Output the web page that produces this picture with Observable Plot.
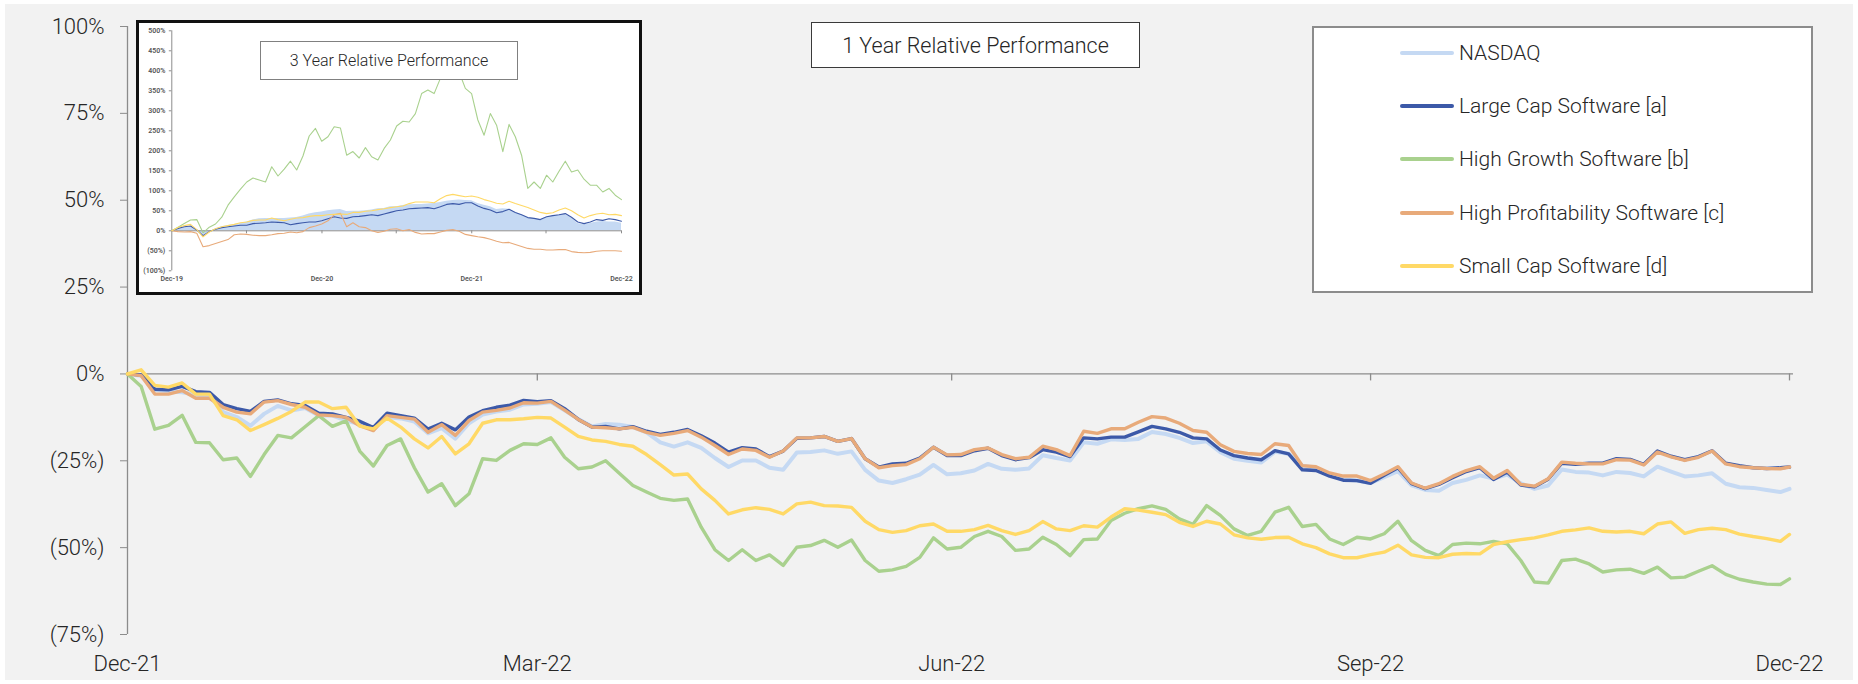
<!DOCTYPE html>
<html>
<head>
<meta charset="utf-8">
<script src="https://cdn.jsdelivr.net/npm/d3@7"></script>
<script src="https://cdn.jsdelivr.net/npm/@observablehq/plot@0.6"></script>
<style>
  html, body { margin: 0; padding: 0; background: #ffffff; width: 1858px; height: 684px; overflow: hidden; font-family: Roboto, "Noto Sans", sans-serif; }
  #bg { position: absolute; left: 5px; top: 4px; width: 1848px; height: 676px; background: #f2f2f2; }
  #main { position: absolute; left: 0; top: 0; }
  .box { position: absolute; background: #ffffff; box-sizing: border-box; }
  .ttl { display: flex; align-items: center; justify-content: center; color: #262626; font-weight: 300; white-space: nowrap; }
  #insetPlot { position: absolute; left: 139px; top: 23px; }
  .lg-sw { position: absolute; height: 4px; border-radius: 2px; transform: translateY(-50%); }
  .lg-tx { position: absolute; font-size: 21px; font-weight: 300; line-height: 1; color: #262626; transform: translateY(-50%); white-space: nowrap; }
</style>
</head>
<body>
<div id="bg"></div>
<div id="main"></div>
<div class="box" style="left:136px;top:20px;width:506px;height:275px;border:3px solid #111;"></div>
<div id="insetPlot"></div>
<div id="title3" class="box ttl" style="left:260px;top:41px;width:258px;height:39px;border:1.5px solid #808080;font-size:16px;"></div>
<div id="title1" class="box ttl" style="left:811px;top:22px;width:329px;height:46px;border:1.5px solid #3a3a3a;font-size:21.5px;"></div>
<div id="legend" class="box" style="left:1312px;top:26px;width:501px;height:267px;border:2px solid #8c8c8c;"></div>
<script>
// ---------- text ----------
const mainTitle = "1 Year Relative Performance";
const insetTitle = "3 Year Relative Performance";
const seriesNames = ["NASDAQ", "Large Cap Software [a]", "High Growth Software [b]", "High Profitability Software [c]", "Small Cap Software [d]"];
const seriesColors = ["#c5d9f3", "#3c59a8", "#a9d18e", "#e8aa7a", "#ffd966"];

// ---------- 1 year data (cumulative % change since Dec-21, every 3 days) ----------
const nasdaq = [0, -0.5, -4.6, -5.0, -5.3, -6.0, -6.3, -11.0, -12.4, -14.9,
 -11.5, -9.2, -10.5, -9.8, -12.0, -12.0, -13.4, -14.4, -15.7, -12.4,
 -12.8, -13.7, -17.1, -15.6, -18.6, -14.2, -11.7, -10.8, -10.3, -8.8,
 -8.6, -8.1, -10.5, -13.0, -15.1, -14.4, -14.6, -15.3, -16.8, -19.7,
 -20.9, -19.7, -21.3, -24.2, -26.8, -24.9, -24.9, -27.0, -27.6, -22.6,
 -22.5, -22.0, -23.0, -22.3, -27.6, -30.7, -31.4, -30.3, -29.0, -26.2,
 -28.9, -28.6, -27.8, -25.9, -27.3, -27.6, -27.2, -23.4, -24.2, -24.9,
 -19.7, -20.1, -18.8, -19.0, -18.7, -16.7, -17.3, -18.4, -19.9, -19.4,
 -22.5, -24.4, -25.0, -25.5, -22.4, -23.0, -26.4, -27.0, -29.0, -30.4,
 -30.7, -31.4, -29.7, -28.0, -32.1, -33.4, -33.6, -31.4, -30.5, -29.2,
 -30.1, -29.0, -31.5, -33.1, -32.1, -27.5, -28.2, -28.4, -29.2, -28.2,
 -28.5, -29.5, -26.7, -28.1, -29.5, -29.2, -28.6, -31.6, -32.6, -32.8,
 -33.4, -34.0, -33.1];
const largeCap = [0, -0.3, -4.4, -4.6, -3.6, -5.1, -5.3, -8.8, -10.0, -10.8,
 -7.9, -7.5, -8.6, -9.1, -11.3, -11.5, -12.5, -13.6, -15.4, -11.3,
 -12.0, -12.7, -15.9, -14.2, -16.1, -12.4, -10.6, -9.6, -9.0, -7.6,
 -8.0, -7.7, -10.0, -13.1, -15.3, -15.1, -15.8, -15.2, -16.5, -17.4,
 -16.8, -16.0, -17.8, -19.9, -22.5, -21.2, -21.6, -23.8, -22.2, -18.5,
 -18.4, -18.0, -19.4, -18.6, -24.4, -26.8, -25.9, -25.7, -24.2, -21.1,
 -23.5, -23.5, -22.1, -21.4, -23.5, -24.7, -24.1, -21.8, -22.5, -23.8,
 -18.4, -18.7, -18.2, -18.2, -16.7, -15.1, -15.8, -16.8, -18.4, -18.7,
 -21.9, -23.5, -24.2, -24.7, -22.1, -23.0, -27.6, -27.8, -29.4, -30.6,
 -30.7, -31.5, -29.2, -27.0, -31.6, -33.0, -31.8, -29.9, -28.1, -27.0,
 -30.4, -28.2, -32.0, -32.5, -30.3, -25.7, -26.0, -25.7, -25.7, -24.4,
 -24.6, -26.0, -22.2, -23.7, -24.7, -23.8, -22.1, -25.7, -26.4, -27.0,
 -27.2, -27.0, -26.8];
const highGrowth = [0, -3.6, -15.9, -14.8, -11.9, -19.7, -19.8, -24.7, -24.2, -29.5,
 -23.2, -17.7, -18.4, -15.2, -12.0, -15.1, -13.5, -22.2, -26.5, -20.6,
 -18.7, -27.0, -34.0, -31.6, -37.9, -34.5, -24.4, -24.9, -22.0, -20.1,
 -20.3, -18.4, -24.0, -27.3, -26.8, -25.0, -28.6, -32.1, -34.0, -35.8,
 -36.4, -36.0, -44.1, -50.6, -53.7, -50.6, -53.7, -52.1, -55.1, -49.9,
 -49.4, -47.9, -49.9, -47.8, -53.7, -56.8, -56.4, -55.4, -52.8, -47.2,
 -50.4, -49.9, -46.8, -45.3, -46.8, -50.8, -50.4, -47.0, -49.1, -52.3,
 -47.7, -47.5, -42.2, -40.1, -38.8, -38.0, -39.0, -41.7, -43.3, -37.9,
 -40.7, -44.6, -46.5, -45.3, -39.8, -38.4, -43.9, -43.3, -47.5, -49.1,
 -47.0, -47.5, -46.0, -42.4, -48.0, -50.8, -52.3, -49.1, -48.7, -48.9,
 -48.2, -48.9, -53.7, -59.9, -60.2, -53.7, -53.3, -54.7, -57.0, -56.4,
 -56.2, -57.4, -55.6, -58.7, -58.5, -56.8, -55.2, -57.7, -59.1, -59.9,
 -60.5, -60.6, -59.0];
const highProf = [0, -0.5, -5.8, -5.8, -4.8, -7.0, -7.0, -9.6, -11.0, -11.5,
 -8.1, -7.7, -8.8, -9.6, -11.8, -12.0, -12.5, -14.9, -16.3, -12.0,
 -12.5, -13.0, -16.8, -14.6, -17.7, -13.4, -11.0, -10.5, -9.8, -8.3,
 -8.4, -7.9, -10.4, -13.1, -15.3, -15.5, -15.8, -15.4, -16.8, -17.7,
 -17.1, -16.3, -18.2, -20.6, -23.2, -21.6, -22.0, -24.0, -22.2, -18.4,
 -18.4, -18.0, -19.4, -18.6, -24.4, -27.0, -26.4, -26.1, -24.4, -21.1,
 -23.3, -23.2, -21.8, -21.3, -23.2, -24.4, -24.0, -20.8, -21.8, -23.5,
 -16.5, -17.1, -15.8, -15.8, -13.9, -12.3, -12.7, -14.2, -16.3, -16.8,
 -20.4, -22.3, -22.9, -23.2, -20.1, -20.6, -26.4, -26.7, -28.5, -29.4,
 -29.4, -30.7, -28.8, -26.7, -31.4, -32.9, -31.6, -29.5, -27.8, -26.7,
 -30.0, -27.8, -31.8, -32.3, -30.2, -25.4, -25.7, -25.9, -25.9, -24.7,
 -24.8, -26.2, -22.5, -23.9, -24.9, -24.0, -22.2, -25.9, -26.7, -27.0,
 -27.2, -27.3, -26.8];
const smallCap = [0, 1.2, -3.3, -3.8, -2.6, -5.8, -5.8, -12.0, -13.2, -16.3,
 -14.6, -12.8, -10.8, -8.1, -8.1, -10.0, -9.6, -15.0, -15.8, -12.7,
 -15.3, -18.7, -21.3, -18.0, -23.0, -20.1, -14.2, -13.2, -13.2, -12.9,
 -12.5, -12.7, -15.3, -18.0, -19.0, -19.4, -20.3, -20.8, -23.2, -26.1,
 -29.1, -28.8, -33.1, -36.4, -40.3, -39.1, -38.5, -39.0, -40.3, -37.4,
 -36.9, -37.9, -38.0, -38.4, -42.4, -44.8, -45.6, -45.1, -43.7, -43.2,
 -45.3, -45.3, -44.8, -43.6, -45.1, -46.2, -45.1, -42.5, -44.6, -45.1,
 -43.7, -44.1, -41.2, -38.8, -39.2, -39.8, -40.5, -42.7, -43.9, -42.4,
 -43.2, -46.3, -47.2, -47.6, -47.1, -47.0, -48.9, -50.0, -51.8, -52.9,
 -52.9, -52.0, -51.3, -49.3, -52.1, -52.8, -52.9, -51.9, -51.7, -51.8,
 -49.1, -48.3, -47.7, -47.2, -46.3, -45.3, -44.9, -44.3, -45.3, -45.5,
 -45.3, -46.0, -43.2, -42.6, -45.9, -44.8, -44.4, -44.8, -46.1, -46.8,
 -47.4, -48.2, -46.2];

// ---------- 3 year inset data (cumulative % change since Dec-19, every half month) ----------
const nasdaq3y = [0, 7, 10, 11, 4, -15, -5, 5, 10, 13,
 16, 18, 22, 27, 30, 31, 31, 31, 31, 32,
 33, 37, 42, 45, 47, 50, 52, 53, 48, 49,
 49, 50, 52, 55, 56, 60, 60, 63, 65, 66,
 66, 67, 68, 71, 74, 76, 77, 76, 75, 68,
 64, 60, 53, 55, 54, 46, 40, 33, 31, 28,
 33, 37, 39, 41, 32, 18, 15, 18, 22, 23,
 22, 22, 19];
const largeCap3y = [0, 6, 10, 12, 2, -12, -2, 4, 8, 10,
 12, 14, 14, 18, 19, 20, 22, 21, 20, 15,
 18, 20, 22, 22, 25, 30, 35, 32, 31, 35,
 36, 38, 40, 38, 42, 46, 50, 52, 55, 56,
 57, 58, 55, 60, 66, 68, 66, 70, 70, 62,
 56, 52, 45, 48, 54, 46, 40, 33, 31, 28,
 35, 38, 40, 43, 34, 22, 18, 22, 28, 26,
 30, 28, 24];
const highGrowth3y = [0, 9, 18, 27, 28, -5, 9, 17, 34, 64,
 85, 104, 122, 132, 127, 122, 160, 137, 154, 174,
 152, 187, 237, 256, 224, 235, 260, 257, 189, 198,
 182, 208, 185, 177, 206, 227, 262, 274, 272, 293,
 343, 352, 343, 381, 431, 456, 397, 356, 343, 277,
 239, 293, 264, 198, 266, 235, 189, 106, 122, 106,
 139, 122, 149, 174, 147, 152, 129, 114, 114, 97,
 106, 89, 78];
const highProf3y = [0, -2, -3, -2, -6, -40, -37, -32, -27, -22,
 -10, -8, -9, -11, -12, -12, -10, -7, -6, -3,
 -5, -2, 8, 12, 17, 25, 40, 44, 10, 20,
 10, 8, 0, -4, -1, 4, 5, 0, 3, -4,
 -8, -7, -7, -3, 1, 3, -1, -9, -12, -15,
 -17, -21, -26, -30, -29, -34, -39, -44, -46, -46,
 -48, -48, -47, -47, -52, -54, -55, -54, -51, -50,
 -50, -50, -51];
const smallCap3y = [0, 8, 13, 16, 3, -15, -3, 5, 10, 13,
 16, 20, 22, 26, 27, 27, 32, 28, 25, 29,
 32, 33, 36, 38, 38, 40, 41, 42, 41, 46,
 46, 49, 50, 53, 55, 58, 60, 62, 68, 72,
 72, 72, 70, 80, 88, 91, 88, 85, 87, 84,
 78, 74, 69, 67, 74, 68, 63, 58, 52, 46,
 43, 45, 52, 57, 50, 40, 32, 38, 42, 44,
 40, 41, 38];

// ---------- ticks ----------
const yTicks = [-75, -50, -25, 0, 25, 50, 75, 100];
const xTickLabels = ["2021-12-31", "2022-03-31", "2022-06-30", "2022-09-30", "2022-12-31"];
const insetYTicks = [-100, -50, 0, 50, 100, 150, 200, 250, 300, 350, 400, 450, 500];
const insetXTickLabels = ["2019-12-31", "2020-12-31", "2021-12-31", "2022-12-31"];
const insetMinorTicks = ["2020-06-30", "2021-06-30", "2022-06-30", "2022-12-31", "2020-12-31", "2021-12-31"];

// ---------- build ----------
const parse = d3.utcParse("%Y-%m-%d");
const start = parse("2021-12-31"), end = parse("2022-12-31");
const dates = d3.range(0, 364, 3).concat([365]).map(d => d3.utcDay.offset(start, d));
const start3 = parse("2019-12-31"), end3 = parse("2022-12-31");
const dates3 = d3.range(73).map(i => new Date(+start3 + i * (end3 - start3) / 72));

const pctFmt = v => v < 0 ? `(${-v}%)` : `${v}%`;
const axisGray = "#8c8c8c";
const textCol = "#262626";

const mainValues = [nasdaq, largeCap, highGrowth, highProf, smallCap];
const insetValues = [nasdaq3y, largeCap3y, highGrowth3y, highProf3y, smallCap3y];
const toRows = (vals, ds) => vals.map((v, i) => ({date: ds[i], value: v}));

const xTicks = xTickLabels.map(parse);
const lineMarks = mainValues.map((vals, k) =>
  Plot.line(toRows(vals, dates), {x: "date", y: "value", stroke: seriesColors[k], strokeWidth: k === 0 ? 4 : 3.4, strokeLinejoin: "round", strokeLinecap: "round"}));

const mainPlot = Plot.plot({
  width: 1858, height: 684,
  marginLeft: 127, marginRight: 69, marginTop: 26, marginBottom: 50,
  x: {type: "utc", domain: [start, end]},
  y: {domain: [-75, 100], label: null},
  style: {background: "transparent", fontFamily: "Roboto, 'Noto Sans', sans-serif", fontWeight: 300, overflow: "visible"},
  marks: [
    Plot.ruleY([0], {stroke: axisGray, strokeWidth: 1.3, insetRight: -4}),
    Plot.ruleX(xTicks.slice(1), {x: d => d, y1: 0, y2: 0, insetBottom: -7, stroke: axisGray, strokeWidth: 1.3}),
    Plot.ruleX([start], {y1: -75, y2: 100, stroke: axisGray, strokeWidth: 1.3}),
    Plot.axisY(yTicks, {tickFormat: pctFmt, tickSize: 7, tickPadding: 16, fontSize: 22, stroke: axisGray, fill: textCol, label: null}),
    Plot.axisX(xTicks, {tickFormat: d3.utcFormat("%b-%y"), tickSize: 0, tickPadding: 21, fontSize: 22, fill: textCol, label: null}),
    ...lineMarks
  ]
});
document.getElementById("main").appendChild(mainPlot);

// inset
const insetXTicks = insetXTickLabels.map(parse);
const insetMinor = insetMinorTicks.map(parse);
const insetMarks = [
  Plot.areaY(toRows(insetValues[0], dates3), {x: "date", y1: 0, y2: "value", fill: seriesColors[0]}),
  Plot.ruleY([0], {stroke: axisGray, strokeWidth: 1}),
  Plot.ruleX(insetMinor, {x: d => d, y1: 0, y2: 0, insetBottom: -3, stroke: axisGray}),
  Plot.ruleX([start3], {y1: -100, y2: 500, stroke: axisGray}),
  Plot.axisY(insetYTicks, {tickFormat: pctFmt, tickSize: 2.5, tickPadding: 4, fontSize: 7, fontWeight: 600, stroke: axisGray, fill: "#555", label: null}),
  Plot.axisX(insetXTicks, {tickFormat: d3.utcFormat("%b-%y"), tickSize: 0, tickPadding: 5, fontSize: 7, fontWeight: 600, fill: "#555", label: null}),
  ...insetValues.slice(1).map((vals, j) =>
    Plot.line(toRows(vals, dates3), {x: "date", y: "value", stroke: seriesColors[j + 1], strokeWidth: 1.1, strokeLinejoin: "round"}))
];
const insetPlot = Plot.plot({
  width: 500, height: 269,
  marginLeft: 32.3, marginRight: 18, marginTop: 7.3, marginBottom: 21.7,
  x: {type: "utc", domain: [start3, end3]},
  y: {domain: [-100, 500], label: null},
  style: {background: "transparent", fontFamily: "Roboto, 'Noto Sans', sans-serif", overflow: "visible"},
  marks: insetMarks
});
document.getElementById("insetPlot").appendChild(insetPlot);

// titles
document.getElementById("title1").textContent = mainTitle;
document.getElementById("title3").textContent = insetTitle;

// legend
const legend = document.getElementById("legend");
seriesNames.forEach((name, k) => {
  const cy = 24.7 + k * 53.3;
  const sw = document.createElement("div");
  sw.className = "lg-sw";
  sw.style.left = "86px"; sw.style.width = "54px"; sw.style.top = cy + "px";
  sw.style.background = seriesColors[k];
  legend.appendChild(sw);
  const tx = document.createElement("div");
  tx.className = "lg-tx";
  tx.style.left = "145px"; tx.style.top = cy + "px";
  tx.textContent = name;
  legend.appendChild(tx);
});
</script>
</body>
</html>
